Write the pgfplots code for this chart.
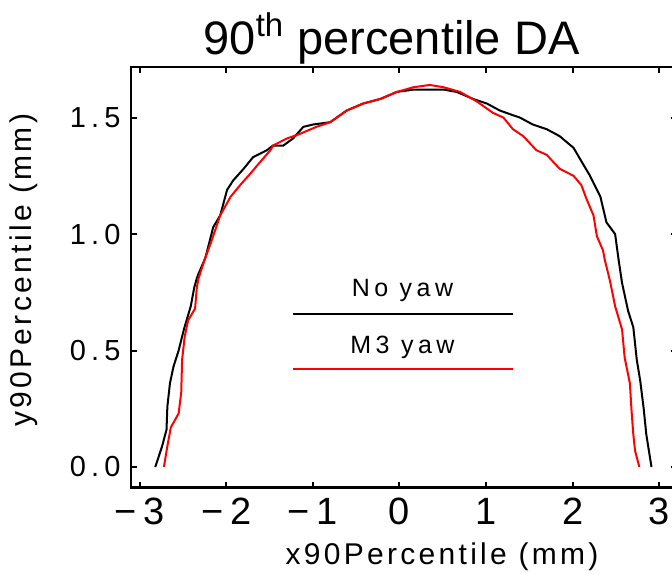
\documentclass[border=0pt]{standalone}
\usepackage{pgfplots}
\pgfplotsset{compat=1.18}
\usepackage{fontspec}
\setmainfont{Liberation Sans}
\newfontfamily\labfont[LetterSpace=11]{Liberation Sans}
\newfontfamily\tickfont[LetterSpace=18]{Liberation Sans}
\begin{document}
\begin{tikzpicture}
\useasboundingbox (-65.5pt,-43.25pt) rectangle (270.5pt,243.75pt);
\clip (-65.5pt,-43.25pt) rectangle (270.5pt,243.75pt);
\begin{axis}[
  at={(0pt,0pt)}, anchor=south west,
  scale only axis, width=272.8pt, height=210.25pt,
  xmin=-3.1, xmax=3.2, ymin=-0.088, ymax=1.717,
  xtick={-3,-2,-1,0,1,2,3}, xticklabels={−3,−2,−1,0,1,2,3},
  ytick={0,0.5,1,1.5}, yticklabels={0.0,0.5,1.0,1.5},
  minor tick num=0,
  tick align=inside, major tick length=3pt,
  axis line style={line width=1.2pt},
  every tick/.style={black, line width=1pt},
  x tick label style={font=\fontsize{19}{19}\tickfont, anchor=north, inner sep=0pt, yshift=-5pt},
  y tick label style={font=\fontsize{14.5}{14.5}\tickfont, anchor=east, inner sep=0pt, xshift=-5pt},
  xlabel={x90Percentile (mm)}, ylabel={y90Percentile (mm)},
  xlabel style={font=\fontsize{15}{15}\labfont, at={(axis description cs:0.570,-0.184)}, anchor=base, inner sep=0pt},
  ylabel style={font=\fontsize{15}{15}\labfont, at={(axis description cs:-0.182,0.517)}, anchor=base, inner sep=0pt},
]
\addplot[black, line width=1pt] coordinates {
(-2.82,0.00) (-2.74,0.09) (-2.69,0.16) (-2.68,0.26) (-2.65,0.36) (-2.61,0.43)
(-2.55,0.50) (-2.49,0.59) (-2.41,0.69) (-2.37,0.77) (-2.34,0.81) (-2.32,0.83)
(-2.25,0.89) (-2.24,0.90) (-2.15,1.03) (-2.07,1.08) (-1.99,1.19) (-1.92,1.23)
(-1.80,1.28) (-1.69,1.33) (-1.53,1.36) (-1.46,1.38) (-1.34,1.38) (-1.23,1.41)
(-1.11,1.46) (-1.00,1.47) (-0.80,1.48) (-0.61,1.53) (-0.42,1.56) (-0.22,1.58)
(-0.03,1.61) (0.16,1.62) (0.35,1.62) (0.51,1.62) (0.66,1.61) (0.85,1.58)
(1.01,1.56) (1.16,1.53) (1.31,1.51) (1.39,1.50) (1.54,1.47) (1.70,1.45)
(1.85,1.42) (2.01,1.37) (2.12,1.30) (2.20,1.25) (2.32,1.16) (2.39,1.05)
(2.49,1.00) (2.53,0.89) (2.57,0.79) (2.64,0.67) (2.70,0.60) (2.74,0.46)
(2.78,0.37) (2.82,0.25) (2.85,0.14) (2.91,0.00)
};
\addplot[red, line width=1pt] coordinates {
(-2.72,0.00) (-2.68,0.09) (-2.64,0.17) (-2.55,0.23) (-2.52,0.32) (-2.51,0.46)
(-2.48,0.56) (-2.44,0.63) (-2.36,0.68) (-2.34,0.77) (-2.32,0.81) (-2.25,0.89)
(-2.18,0.96) (-2.07,1.08) (-1.95,1.16) (-1.84,1.21) (-1.72,1.26) (-1.63,1.30)
(-1.49,1.36) (-1.46,1.38) (-1.30,1.41) (-1.15,1.43) (-0.96,1.46) (-0.80,1.48)
(-0.61,1.53) (-0.42,1.56) (-0.22,1.58) (-0.03,1.61) (0.16,1.63) (0.35,1.64)
(0.51,1.63) (0.70,1.61) (0.89,1.57) (1.08,1.52) (1.20,1.50) (1.31,1.45)
(1.43,1.42) (1.58,1.36) (1.70,1.34) (1.85,1.28) (2.01,1.25) (2.10,1.21)
(2.16,1.15) (2.24,1.08) (2.28,0.99) (2.35,0.93) (2.37,0.89) (2.43,0.80)
(2.49,0.69) (2.57,0.59) (2.60,0.47) (2.66,0.36) (2.68,0.24) (2.70,0.14)
(2.72,0.07) (2.77,0.00)
};
\draw[black, line width=1pt] (axis cs:-1.23,0.657) -- (axis cs:1.31,0.657);
\draw[red, line width=1pt] (axis cs:-1.23,0.42) -- (axis cs:1.31,0.42);
\node[font=\fontsize{12.5}{12.5}\tickfont, anchor=base, inner sep=0pt] at (axis cs:0.035,0.734) {No yaw};
\node[font=\fontsize{12.5}{12.5}\tickfont, anchor=base, inner sep=0pt] at (axis cs:0.035,0.489) {M3 yaw};
\end{axis}
\node[font=\fontsize{23.5}{23.5}\selectfont, anchor=base, inner sep=0pt] at (130.25pt,216.25pt) {90\textsuperscript{th} percentile DA};
\end{tikzpicture}
\end{document}
